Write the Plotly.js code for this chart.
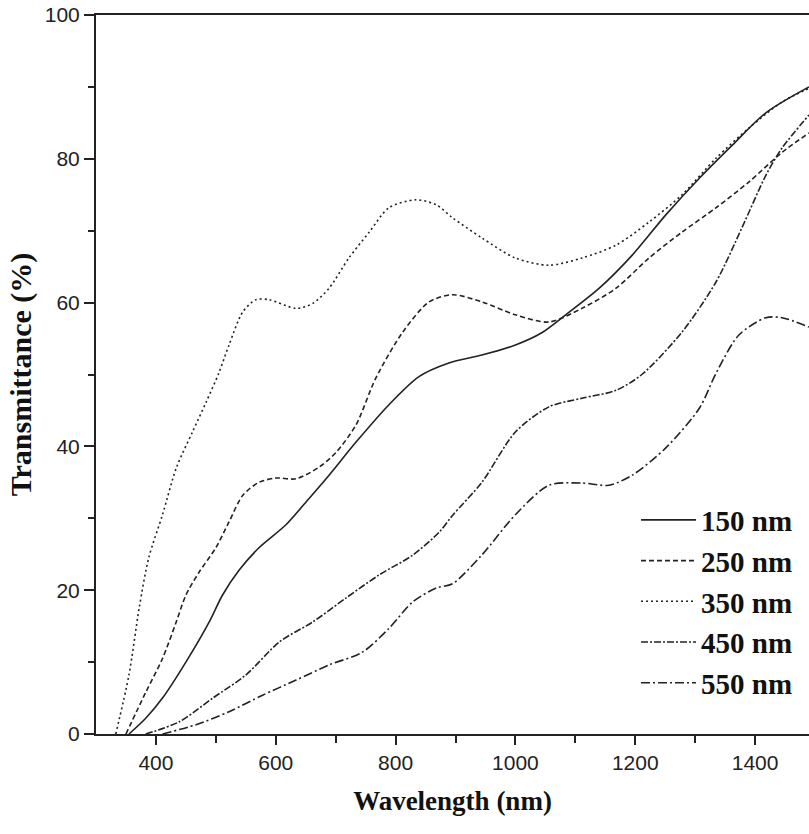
<!DOCTYPE html>
<html>
<head>
<meta charset="utf-8">
<script src="https://cdn.plot.ly/plotly-3.0.1.min.js"></script>
<style>html,body{margin:0;padding:0;background:#fff;}#chart{width:809px;height:834px;}</style>
</head>
<body>
<div id="chart"></div>
<script>
// Series names
const seriesNames = ["150 nm", "250 nm", "350 nm", "450 nm", "550 nm"];

// 150 nm (solid)
const x150 = [355, 383, 411, 450, 489, 511, 539, 572, 617, 656, 689, 734, 789, 839, 889, 944, 1000, 1044, 1084, 1140, 1195, 1251, 1307, 1362, 1418, 1490];
const y150 = [0, 2.2, 5.0, 10.0, 15.6, 19.3, 22.8, 25.9, 29.1, 32.8, 36.0, 40.6, 45.8, 49.7, 51.6, 52.7, 54.1, 55.8, 58.3, 62.0, 66.6, 72.2, 77.3, 81.9, 86.4, 90.0];

// 250 nm (dashed)
const x250 = [350, 383, 411, 434, 450, 472, 500, 522, 545, 572, 600, 634, 672, 701, 734, 767, 812, 856, 895, 944, 1000, 1056, 1111, 1168, 1223, 1278, 1335, 1390, 1445, 1490];
const y250 = [0, 5.8, 10.5, 15.6, 19.3, 22.5, 25.9, 29.5, 33.2, 35.0, 35.6, 35.5, 37.1, 39.2, 43.0, 49.5, 55.9, 60.1, 61.1, 60.1, 58.3, 57.3, 59.2, 62.0, 66.2, 69.8, 73.2, 76.8, 80.9, 83.6];

// 350 nm (dotted)
const x350 = [333, 355, 372, 388, 411, 434, 461, 484, 505, 522, 545, 567, 589, 634, 662, 689, 722, 756, 789, 834, 868, 895, 944, 1000, 1056, 1111, 1168, 1223, 1278, 1335, 1390, 1445, 1490];
const y350 = [0, 8.2, 17.5, 24.5, 30.5, 37.0, 42.0, 46.2, 50.2, 54.1, 58.7, 60.4, 60.4, 59.2, 59.9, 62.0, 66.2, 69.8, 73.2, 74.3, 73.6, 71.8, 69.0, 66.2, 65.2, 66.2, 68.0, 71.2, 75.0, 80.1, 84.3, 87.9, 89.8];

// 450 nm (dash-dot)
const x450 = [383, 439, 495, 550, 606, 662, 717, 772, 829, 873, 895, 944, 1000, 1056, 1111, 1168, 1211, 1278, 1335, 1378, 1418, 1445, 1490];
const y450 = [0, 1.7, 5.0, 8.2, 12.8, 15.6, 18.9, 22.1, 24.9, 28.1, 30.4, 35.0, 42.0, 45.5, 46.7, 47.8, 50.0, 55.9, 62.9, 70.4, 77.7, 81.5, 86.1];

// 550 nm (long dash-dot)
const x550 = [411, 467, 522, 578, 634, 689, 745, 789, 829, 868, 895, 944, 1000, 1056, 1111, 1156, 1195, 1251, 1307, 1335, 1373, 1418, 1445, 1490];
const y550 = [0, 1.3, 3.1, 5.4, 7.5, 9.6, 11.4, 14.7, 18.4, 20.3, 20.9, 24.9, 30.5, 34.6, 34.9, 34.6, 36.0, 39.8, 45.3, 50.2, 55.5, 57.9, 57.9, 56.6];

const xs = [x150, x250, x350, x450, x550];
const ys = [y150, y250, y350, y450, y550];
const dashes = ["solid", "5px,3px", "2px,3px", "7px,2px,2px,2px", "9px,3px,2px,3px"];

const traces = seriesNames.map((name, i) => ({
  x: xs[i], y: ys[i], name: name, type: "scatter", mode: "lines",
  line: {color: "#222", width: 1.6, dash: dashes[i], shape: "spline", smoothing: 0.8}
}));

const tickFont = {family: "Liberation Sans, Arial, sans-serif", size: 21, color: "#222"};
const serif = "Liberation Serif, Times New Roman, serif";

const layout = {
  width: 809, height: 834,
  margin: {l: 96, r: 0, t: 15, b: 100},
  paper_bgcolor: "#fff", plot_bgcolor: "#fff",
  showlegend: true,
  legend: {
    x: 0.7574, y: 0.333, xanchor: "left", yanchor: "top",
    itemwidth: 55,
    font: {family: serif, size: 29, color: "#111", weight: "bold"},
    bgcolor: "rgba(0,0,0,0)", borderwidth: 0, tracegroupgap: 0
  },
  xaxis: {
    range: [300, 1490], showgrid: false, zeroline: false,
    showline: true, linecolor: "#222", linewidth: 2, mirror: true,
    ticks: "outside", ticklen: 9, tickwidth: 2, tickcolor: "#222",
    tickvals: [400, 600, 800, 1000, 1200, 1400],
    minor: {tickvals: [500, 700, 900, 1100, 1300], ticks: "outside", ticklen: 7, tickwidth: 2, tickcolor: "#222"},
    tickfont: tickFont,
    title: {text: "Wavelength (nm)", font: {family: serif, size: 27, color: "#111", weight: "bold"}, standoff: 18}
  },
  yaxis: {
    range: [0, 100], showgrid: false, zeroline: false,
    showline: true, linecolor: "#222", linewidth: 2, mirror: false,
    ticks: "outside", ticklen: 10, tickwidth: 2, tickcolor: "#222",
    tickvals: [0, 20, 40, 60, 80, 100],
    minor: {tickvals: [10, 30, 50, 70, 90], ticks: "outside", ticklen: 6, tickwidth: 2, tickcolor: "#222"},
    tickfont: tickFont,
    title: {text: "Transmittance (%)", font: {family: serif, size: 30, color: "#111", weight: "bold"}, standoff: 4}
  }
};

Plotly.newPlot("chart", traces, layout, {displayModeBar: false, staticPlot: true});
</script>
</body>
</html>
